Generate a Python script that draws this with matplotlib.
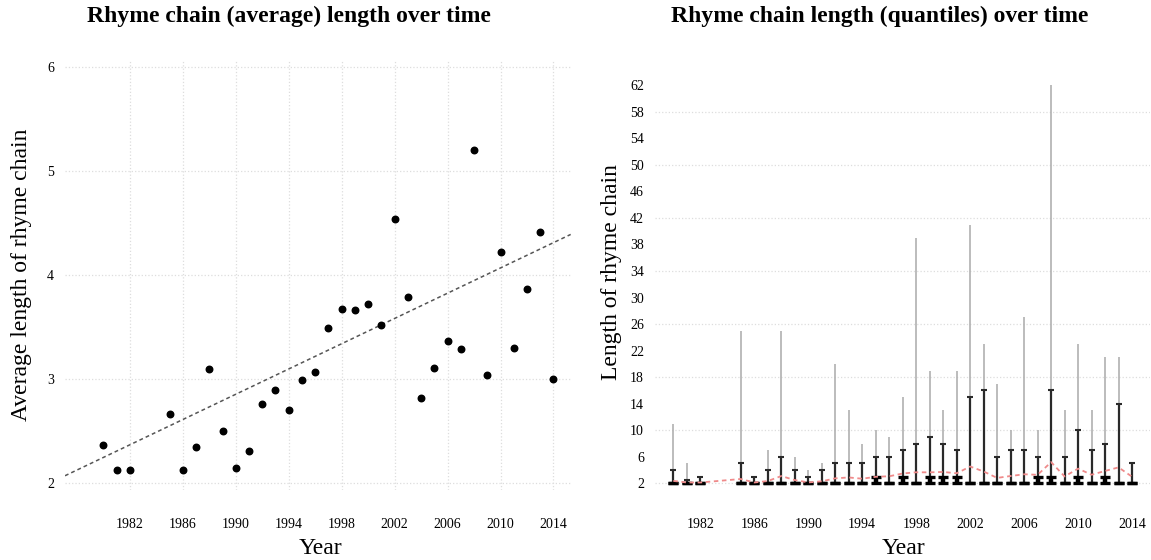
import numpy as np
import matplotlib
matplotlib.use('Agg')
import matplotlib.pyplot as plt

plt.rcParams['font.family'] = ['Liberation Serif', 'DejaVu Serif']

# data
years = [1980, 1981, 1982, 1985, 1986, 1987, 1988, 1989, 1990, 1991, 1992,
         1993, 1994, 1995, 1996, 1997, 1998, 1999, 2000, 2001, 2002, 2003,
         2004, 2005, 2006, 2007, 2008, 2009, 2010, 2011, 2012, 2013, 2014]
avg_len = [2.37, 2.13, 2.13, 2.66, 2.13, 2.35, 3.10, 2.50, 2.14, 2.31, 2.76,
           2.89, 2.70, 2.99, 3.07, 3.49, 3.67, 3.66, 3.72, 3.52, 4.54, 3.79,
           2.82, 3.11, 3.37, 3.29, 5.20, 3.04, 4.22, 3.30, 3.87, 4.41, 3.00]
q_min = [2] * 33
q75 = [2, 2, 2, 2, 2, 2, 2, 2, 2, 2, 2,
       2, 2, 3, 2, 3, 2, 3, 3, 3, 2, 2,
       2, 2, 2, 3, 3, 2, 3, 2, 3, 2, 2]
q90 = [4, 2.5, 3, 5, 3, 4, 6, 4, 3, 4, 5,
       5, 5, 6, 6, 7, 8, 9, 8, 7, 15, 16,
       6, 7, 7, 6, 16, 6, 10, 7, 8, 14, 5]
q_max = [11, 5, 3, 25, 3, 7, 25, 6, 4, 5, 20,
         13, 8, 10, 9, 15, 39, 19, 13, 19, 41, 23,
         17, 10, 27, 10, 62, 13, 23, 13, 21, 21, 5]

# trend line (dashed) end points
trend_years = [1977.1, 2015.3]
trend_vals = [2.07, 4.39]

xticks = [1982, 1986, 1990, 1994, 1998, 2002, 2006, 2010, 2014]
left_yticks = [2, 3, 4, 5, 6]
right_yticks = list(range(2, 63, 4))
right_grid = [2, 10, 18, 26, 34, 42, 50, 58]

W, H = 1151, 560
fig = plt.figure(figsize=(W / 100, H / 100), dpi=100)

ax1 = fig.add_axes([65 / W, 70 / H, 507 / W, 430 / H])
ax2 = fig.add_axes([655 / W, 70 / H, 495 / W, 430 / H])

# left: average length
ax1.scatter(years, avg_len, s=22, color='black', zorder=3)
ax1.plot(trend_years, trend_vals, color='#555555', lw=1.1, ls=(0, (2.5, 2)), zorder=2)
ax1.set_xlim(1977.1, 2015.4)
ax1.set_ylim(1.933, 6.067)
ax1.set_xticks(xticks)
ax1.set_yticks(left_yticks)
ax1.grid(True, color='#dddddd', ls=':', lw=0.9)

# right: quantiles
lo = np.array(q_min)
ax2.vlines(years, q_min, q_max, color='#b0b0b0', lw=1.2, zorder=2)
ax2.errorbar(years, lo, yerr=[np.zeros(33), np.array(q90) - lo],
             fmt='none', ecolor='#2a2a2a', elinewidth=1.6, capsize=2.2,
             capthick=1.5, zorder=3)
ax2.errorbar(years, lo, yerr=[np.zeros(33), np.array(q75) - lo],
             fmt='none', ecolor='black', elinewidth=3.2, capsize=3.6,
             capthick=2.4, zorder=4)
ax2.plot(years, avg_len, color='#ef8a8a', lw=1.3, ls=(0, (2.5, 2)), zorder=5)
for g in right_grid:
    ax2.axhline(g, color='#dddddd', ls=':', lw=0.9, zorder=1)
ax2.set_xlim(1978.64, 2015.33)
ax2.set_ylim(1.0, 65.8)
ax2.set_xticks(xticks)
ax2.set_yticks(right_yticks)

for ax in (ax1, ax2):
    for s in ax.spines.values():
        s.set_visible(False)
    ax.tick_params(length=0, labelsize=10)
    ax.tick_params(axis='y', pad=8)
    ax.tick_params(axis='x', pad=20)
    ax.set_axisbelow(True)

fig.text(289 / W, 1 - 16 / H, 'Rhyme chain (average) length over time',
         ha='center', va='center', fontsize=17, fontweight='bold')
fig.text(880 / W, 1 - 16 / H, 'Rhyme chain length (quantiles) over time',
         ha='center', va='center', fontsize=17, fontweight='bold')
fig.text(320 / W, 1 - 549 / H, 'Year', ha='center', va='center', fontsize=17)
fig.text(903 / W, 1 - 549 / H, 'Year', ha='center', va='center', fontsize=17)
fig.text(22 / W, 1 - 275 / H, 'Average length of rhyme chain', ha='center',
         va='center', rotation=90, fontsize=17)
fig.text(612 / W, 1 - 272 / H, 'Length of rhyme chain', ha='center',
         va='center', rotation=90, fontsize=17)

fig.savefig('out.png', dpi=100)
